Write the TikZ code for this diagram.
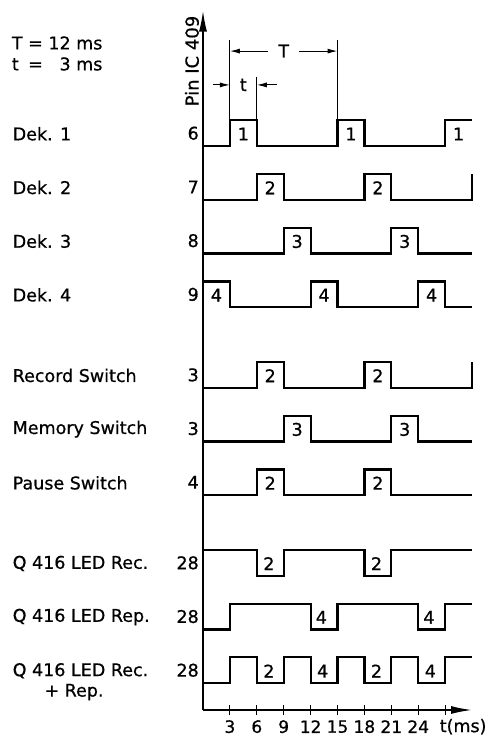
\documentclass[tikz,border=0pt]{standalone}
\usepackage{fontspec}
\setmainfont[FakeBold=0.7]{DejaVu Sans}
\usetikzlibrary{arrows.meta,positioning}

\begin{document}
\begin{tikzpicture}[x=26.9pt, y=26.85pt,
		font=\fontsize{17.5}{21}\selectfont,
		wave/.style={line width=2.2pt, line join=miter},
		axis/.style={line width=1.6pt, -{Latex[length=21pt,width=8pt]}},
		tick/.style={line width=1.1pt},
		extline/.style={line width=0.9pt},
		dim/.style={line width=1pt, -{Latex[length=10pt,width=5pt]}},
		lbl/.style={anchor=west, inner sep=0pt},
		pin/.style={anchor=east, inner sep=0pt},
		num/.style={inner sep=0pt}]
		\useasboundingbox (-203pt,-31pt) rectangle (288pt,710pt);
		\def\h{0.96} % Height of a pulse
		
		% Period and pulse width
		\node[lbl] (legend) at (-7.11,24.37) {\begin{tabular}{@{}l@{ = }r@{ }l@{}}T & 12 & ms\\ t & 3 & ms\end{tabular}};
		\node[num, rotate=90, font=\fontsize{18}{21}\selectfont] (pinlab) at (-0.41,24.17) {Pin IC 409};
		
		% Axes
		\coordinate (O) at (0,0);
		\coordinate (ytip) at (0,26.05);
		\coordinate (xtip) at (10,0);
		\draw[axis] (O) -- (ytip);
		\draw[axis] (O) -- (xtip);
		
		% Ticks and time labels
		\foreach \i in {1, 2, ..., 9} {
			\draw[tick] (\i,-0.17) -- (\i,0.17);
		}
		\foreach \i in {1, 2, ..., 8} {
			\pgfmathtruncatemacro{\ms}{3 * \i}
			\node[num, font=\fontsize{17}{20}\selectfont] (tk\i) at (\i,-0.62) {\ms};
		}
		\node[num] (tunit) at (9.67,-0.62) {t(ms)};
		
		% Row labels and pins
		\foreach \y/\name/\pin [count=\r] in {21/Dek. 1/6, 19/Dek. 2/7, 17/Dek. 3/8, 15/Dek. 4/9,
			12/Record Switch/3, 10/Memory Switch/3, 8/Pause Switch/4,
			5/Q 416 LED Rec./28, 3/Q 416 LED Rep./28, 1/Q 416 LED Rec./28} {
			\node[lbl] (lab\r) at (-7.08,\y+0.46) {\name};
			\node[pin] (pin\r) at (-0.15,\y+0.48) {\pin};
		}
		\node[num, below=5pt of lab10, xshift=-6.5pt] (lab10b) {+ Rep.};
		
		% Waveforms
		\draw[wave] (0,21) -| (1,21+\h) -| (2,21) -| (5,21+\h) -| (6,21) -| (9,21+\h) -- (10,21+\h); % Dek. 1
		\draw[wave] (0,19) -| (2,19+\h) -| (3,19) -| (6,19+\h) -| (7,19) -| (10,19+\h); % Dek. 2
		\draw[wave] (0,17) -| (3,17+\h) -| (4,17) -| (7,17+\h) -| (8,17) -- (10,17); % Dek. 3
		\draw[wave] (0,15+\h) -| (1,15) -| (4,15+\h) -| (5,15) -| (8,15+\h) -| (9,15) -- (10,15); % Dek. 4
		\draw[wave] (0,12) -| (2,12+\h) -| (3,12) -| (6,12+\h) -| (7,12) -| (10,12+\h); % Record
		\draw[wave] (0,10) -| (3,10+\h) -| (4,10) -| (7,10+\h) -| (8,10) -- (10,10); % Memory
		\draw[wave] (0,8) -| (2,8+\h) -| (3,8) -| (6,8+\h) -| (7,8) -- (10,8); % Pause
		\draw[wave] (0,5+\h) -| (2,5) -| (3,5+\h) -| (6,5) -| (7,5+\h) -- (10,5+\h); % LED Rec.
		\draw[wave] (0,3) -| (1,3+\h) -| (4,3) -| (5,3+\h) -| (8,3) -| (9,3+\h) -- (10,3+\h); % LED Rep.
		\draw[wave] (0,1) -| (1,1+\h) -| (2,1) -| (3,1+\h) -| (4,1) -| (5,1+\h) -| (6,1) -| (7,1+\h) -| (8,1) -| (9,1+\h) -- (10,1+\h); % Rec. + Rep.
		
		% Pulse numbers
		\foreach \x/\y/\n [count=\k] in {1.5/21/1, 5.5/21/1, 9.5/21/1, 2.5/19/2, 6.5/19/2,
			3.5/17/3, 7.5/17/3, 0.5/15/4, 4.5/15/4, 8.5/15/4, 2.5/12/2, 6.5/12/2,
			3.5/10/3, 7.5/10/3, 2.5/8/2, 6.5/8/2, 2.45/5/2, 6.45/5/2, 4.4/3/4, 8.4/3/4,
			2.45/1/2, 6.45/1/2, 4.45/1/4, 8.45/1/4} {
			\node[num] (d\k) at (\x,\y+0.45) {\n};
		}
		
		% Dimension lines for T and t
		\coordinate (eA) at (1,24.95);
		\coordinate (eB) at (5,24.95);
		\coordinate (eC) at (2,23.58);
		\draw[extline] (eA) -- (1,21+\h);
		\draw[extline] (eB) -- (5,21+\h);
		\draw[extline] (eC) -- (2,21+\h);
		\node[num, inner xsep=10pt] (Tlab) at (3,24.54) {T};
		\draw[dim] (Tlab.west) -- (Tlab.west -| eA);
		\draw[dim] (Tlab.east) -- (Tlab.east -| eB);
		\node[num] (tlab) at (1.5,23.28) {t};
		\coordinate (tL) at (0.37,23.28);
		\coordinate (tR) at (2.75,23.28);
		\draw[dim] (tL) -- (tL -| eA);
		\draw[dim] (tR) -- (tR -| eC);
	\end{tikzpicture}
\end{document}
